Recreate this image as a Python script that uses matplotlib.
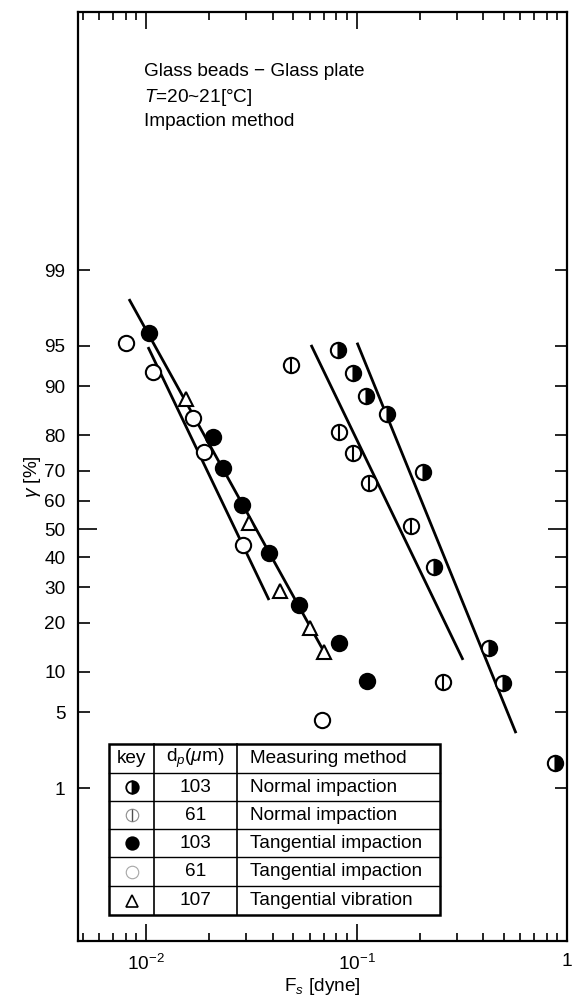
import numpy as np
import matplotlib
matplotlib.use('Agg')
import matplotlib.pyplot as plt
from matplotlib.ticker import FixedLocator, FixedFormatter, LogLocator, NullFormatter, NullLocator
from matplotlib.patches import Rectangle
from statistics import NormalDist

# values: F_s [dyne] and gamma [%]
normal_103_fs = [0.0817, 0.0962, 0.111, 0.1396, 0.207, 0.2335, 0.426, 0.497, 0.877]
normal_103_gamma = [94.6, 92.0, 88.4, 84.9, 69.6, 36.6, 14.3, 8.3, 1.78]

normal_61_fs = [0.0488, 0.0826, 0.0962, 0.1147, 0.1815, 0.2576]
normal_61_gamma = [93.0, 80.8, 75.3, 66.0, 51.1, 8.5]

tang_103_fs = [0.01033, 0.0208, 0.0232, 0.0286, 0.0384, 0.0533, 0.0826, 0.1122]
tang_103_gamma = [96.1, 79.6, 70.8, 58.5, 41.5, 24.7, 15.3, 8.6]

tang_61_fs = [0.00803, 0.0108, 0.01672, 0.01886, 0.0289, 0.0686]
tang_61_gamma = [95.3, 92.1, 84.1, 75.5, 44.3, 4.3]

vib_107_fs = [0.01549, 0.03085, 0.0433, 0.0601, 0.0701]
vib_107_gamma = [87.9, 52.1, 28.9, 18.7, 13.5]

# fitted lines (end points)
fit_fs = [[0.0083, 0.0724], [0.01022, 0.0384], [0.0608, 0.3206], [0.1006, 0.5724]]
fit_gamma = [[98.06, 12.5], [94.9, 26.2], [95.1, 12.0], [95.3, 3.34]]

y_ticks = [1, 5, 10, 20, 30, 40, 50, 60, 70, 80, 90, 95, 99]
x_ticks = [0.01, 0.1, 1]
x_ticklabels = [r'$10^{-2}$', r'$10^{-1}$', '1']

key_sizes = ['103', '61', '103', '61', '107']
key_methods = ['Normal impaction', 'Normal impaction', 'Tangential impaction',
               'Tangential impaction', 'Tangential vibration']

plt.rcParams['font.family'] = ['Liberation Sans', 'DejaVu Sans']
plt.rcParams['mathtext.fontset'] = 'custom'
plt.rcParams['mathtext.rm'] = 'Liberation Sans'
plt.rcParams['mathtext.it'] = 'Liberation Sans:italic'
plt.rcParams['mathtext.bf'] = 'Liberation Sans:bold'

FS = 13.7

nd = NormalDist()
_ppf = np.vectorize(nd.inv_cdf, otypes=[float])
_cdf = np.vectorize(nd.cdf, otypes=[float])


def prob_fwd(p):
    p = np.clip(np.asarray(p, dtype=float) / 100.0, 1e-9, 1 - 1e-9)
    return _ppf(p)


def prob_inv(z):
    return _cdf(np.asarray(z, dtype=float)) * 100.0


W, H = 572, 999
L, R, T, B = 78, 567, 12, 941
fig = plt.figure(figsize=(W / 100, H / 100), dpi=100)
ax = fig.add_axes([L / W, 1 - B / H, (R - L) / W, (B - T) / H])


def px(x, y):
    # figure pixel -> axes fraction
    return (x - L) / (R - L), (B - y) / (B - T)


ax.set_xscale('log')
ax.set_yscale('function', functions=(prob_fwd, prob_inv))
ax.set_xlim(0.00475, 1.0)
ax.set_ylim(float(prob_inv(-3.70)), float(prob_inv(4.645)))

for xs, ys in zip(fit_fs, fit_gamma):
    ax.plot(xs, ys, color='black', lw=2.0, zorder=2, solid_capstyle='butt')

ms = 11
ax.plot(normal_103_fs, normal_103_gamma, 'o', ms=ms, fillstyle='right', mfc='black',
        markerfacecoloralt='white', mec='black', mew=1.5, zorder=3)
ax.plot(normal_61_fs, normal_61_gamma, 'o', ms=ms, mfc='white', mec='black', mew=1.5, zorder=3)
ax.plot(normal_61_fs, normal_61_gamma, '|', ms=ms, mec='black', mew=1.5, zorder=4)
ax.plot(tang_103_fs, tang_103_gamma, 'o', ms=ms, mfc='black', mec='black', mew=1.5, zorder=3)
ax.plot(tang_61_fs, tang_61_gamma, 'o', ms=ms, mfc='white', mec='black', mew=1.5, zorder=3)
ax.plot(vib_107_fs, vib_107_gamma, '^', ms=9.5, mfc='white', mec='black', mew=1.5, zorder=3)

# axes and ticks
for s in ax.spines.values():
    s.set_linewidth(1.6)
ax.xaxis.set_major_locator(FixedLocator(x_ticks))
ax.xaxis.set_major_formatter(FixedFormatter(x_ticklabels))
ax.xaxis.set_minor_locator(LogLocator(base=10, subs=np.arange(2, 10)))
ax.xaxis.set_minor_formatter(NullFormatter())
ax.yaxis.set_major_locator(FixedLocator(y_ticks))
ax.yaxis.set_major_formatter(FixedFormatter([str(v) for v in y_ticks]))
ax.yaxis.set_minor_locator(NullLocator())
ax.tick_params(which='both', direction='in', top=True, right=True, width=1.2,
               labelsize=FS, colors='black')
ax.tick_params(axis='x', which='major', length=12, pad=9)
ax.tick_params(axis='x', which='minor', length=6)
ax.tick_params(axis='y', which='major', length=8.5, pad=9)
for tk, v in zip(ax.yaxis.get_major_ticks(), y_ticks):
    if v == 50:
        tk.tick1line.set_markersize(13.5)
        tk.tick2line.set_markersize(13.5)

ax.set_ylabel(r'$\gamma$ [%]', fontsize=FS)
ax.yaxis.set_label_coords(*px(43, 0))
ax.yaxis.label.set_y(0.5)
ax.set_xlabel(r'F$_s$ [dyne]', fontsize=FS)
ax.xaxis.set_label_coords(px(322, 0)[0], px(0, 976)[1])

# header text
ax.text(*px(144, 72), 'Glass beads \u2212 Glass plate', transform=ax.transAxes,
        fontsize=FS, va='center', ha='left')
ax.text(*px(144, 97), r'$T$=20~21[$\degree$C]', transform=ax.transAxes,
        fontsize=FS, va='center', ha='left')
ax.text(*px(144, 121), 'Impaction method', transform=ax.transAxes,
        fontsize=FS, va='center', ha='left')

# key table
tx0, tx1, tx2, tx3 = 109, 154, 237, 440
row_y = [744, 773, 801, 829, 857, 886, 915]
x0, y0 = px(tx0, row_y[-1])
x1, y1 = px(tx3, row_y[0])
ax.add_patch(Rectangle((x0, y0), x1 - x0, y1 - y0, transform=ax.transAxes,
                       facecolor='white', edgecolor='black', lw=1.8, zorder=5))
for yy in row_y[1:-1]:
    a, b = px(tx0, yy), px(tx3, yy)
    ax.plot([a[0], b[0]], [a[1], b[1]], color='black', lw=1.0, transform=ax.transAxes, zorder=6)
for xx in (tx1, tx2):
    a, b = px(xx, row_y[0]), px(xx, row_y[-1])
    ax.plot([a[0], b[0]], [a[1], b[1]], color='black', lw=1.2, transform=ax.transAxes, zorder=6)

hy = (row_y[0] + row_y[1]) / 2
ax.text(*px((tx0 + tx1) / 2, hy), 'key', transform=ax.transAxes, fontsize=FS,
        ha='center', va='center', zorder=7)
ax.text(*px((tx1 + tx2) / 2, hy), r'd$_p$($\mu$m)', transform=ax.transAxes, fontsize=FS,
        ha='center', va='center', zorder=7)
ax.text(*px(250, hy), 'Measuring method', transform=ax.transAxes, fontsize=FS,
        ha='left', va='center', zorder=7)

kx = (tx0 + tx1) / 2
kms = 9
key_styles = [
    dict(marker='o', fillstyle='right', mfc='black', markerfacecoloralt='white', mec='black', mew=1.3),
    dict(marker='o', mfc='white', mec='0.55', mew=0.8),
    dict(marker='o', mfc='black', mec='black', mew=1.3),
    dict(marker='o', mfc='white', mec='0.65', mew=0.8),
    dict(marker='^', mfc='white', mec='black', mew=1.2),
]
for i, (size, method, st) in enumerate(zip(key_sizes, key_methods, key_styles)):
    cy = (row_y[i + 1] + row_y[i + 2]) / 2
    ax.plot(*px(kx, cy), ms=kms if st['marker'] == 'o' else 8, transform=ax.transAxes,
            zorder=7, clip_on=False, ls='none', **st)
    if i == 1:
        ax.plot(*px(kx, cy), marker='|', ms=kms, mec='0.3', mew=1.0, transform=ax.transAxes,
                zorder=8, ls='none')
    ax.text(*px((tx1 + tx2) / 2, cy), size, transform=ax.transAxes, fontsize=FS,
            ha='center', va='center', zorder=7)
    ax.text(*px(250, cy), method, transform=ax.transAxes, fontsize=FS,
            ha='left', va='center', zorder=7)

fig.savefig('out.png', dpi=100)
